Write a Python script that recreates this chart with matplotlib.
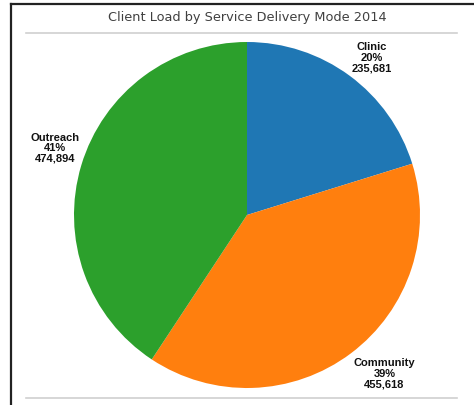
import matplotlib.pyplot as plt
from matplotlib.lines import Line2D
from matplotlib import font_manager
import numpy as np

# Data
modes = ['Clinic', 'Community', 'Outreach']
clients = [235681, 455618, 474894]
percent_labels = ['20%', '39%', '41%']
colors = ['#1f77b4', '#ff7f0e', '#2ca02c']

# pick the regular-width Liberation Sans Bold (not the Narrow variant)
label_font = font_manager.FontProperties(family='DejaVu Sans', weight='bold', size=7)
for f in font_manager.fontManager.ttflist:
    if f.name == 'Liberation Sans' and f.weight in (700, 'bold') and f.style == 'normal' \
            and 'Narrow' not in f.fname:
        label_font = font_manager.FontProperties(fname=f.fname, size=8)
        break

W, H = 474, 405
fig = plt.figure(figsize=(W / 100, H / 100), dpi=100)

# Pie axes: center (247, 215) px, radius 173 px
cx, cy, r = 247, 215, 173
ax = fig.add_axes([(cx - r) / W, (H - cy - r) / H, 2 * r / W, 2 * r / H])
wedges, _ = ax.pie(clients, colors=colors, startangle=90, counterclock=False,
                   radius=1.0, wedgeprops=dict(linewidth=0))
ax.set_xlim(-1, 1)
ax.set_ylim(-1, 1)
ax.set_aspect('equal')
ax.axis('off')

# Labels outside each wedge (distance, angle nudge in degrees)
dist = [1.16, 1.213, 1.175]
nudge = [-2.0, 4.0, -2.5]
for w, name, pct, val, d, dn in zip(wedges, modes, percent_labels, clients, dist, nudge):
    ang = np.deg2rad((w.theta1 + w.theta2) / 2 + dn)
    ax.text(d * np.cos(ang), d * np.sin(ang), f'{name}\n{pct}\n{val:,}',
            ha='center', va='center', fontproperties=label_font,
            linespacing=1.08, color='#111111')

# Title
fig.text(247 / W, 1 - 18 / H, 'Client Load by Service Delivery Mode 2014',
         ha='center', va='center', fontsize=9.3, color='#404040',
         family='DejaVu Sans')

# Separator lines and frame
for y in (33, 398):
    fig.add_artist(Line2D([26 / W, 457 / W], [1 - y / H, 1 - y / H],
                          color='#d0d0d0', linewidth=1.2))
fig.add_artist(Line2D([11 / W, 11 / W], [0, 1 - 4 / H], color='#222222', linewidth=1.6))
fig.add_artist(Line2D([11 / W, 1], [1 - 4 / H, 1 - 4 / H], color='#222222', linewidth=1.6))

fig.savefig('out.png', dpi=100)
